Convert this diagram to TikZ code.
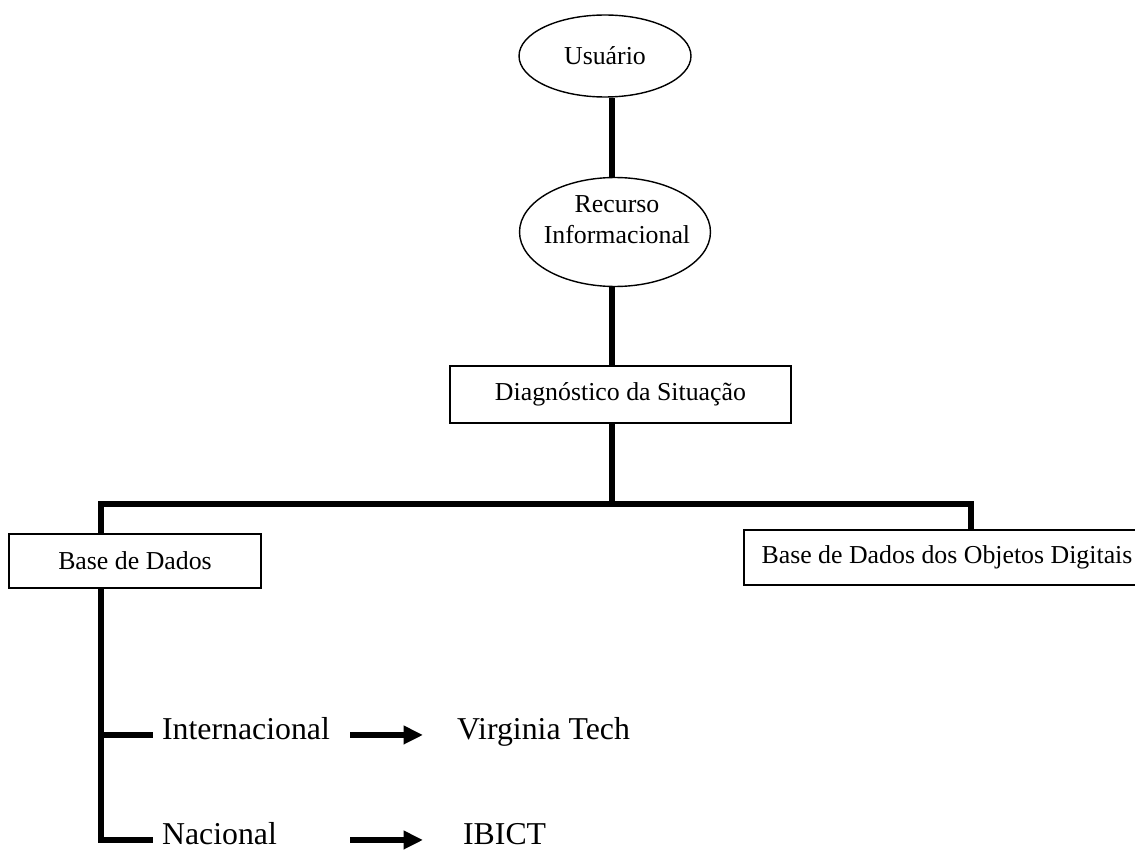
\documentclass[tikz,border=0pt]{standalone}
\usepackage{fontspec}
\setmainfont{Liberation Serif}
\usetikzlibrary{positioning,shapes.geometric,arrows.meta}
\tikzset{
  bubble/.style={draw,ellipse,line width=0.8pt,inner sep=0pt},
  box/.style={draw,rectangle,line width=0.8pt,inner sep=0pt},
  link/.style={line width=3.7pt},
  pointer/.style={line width=3.9pt,-{Triangle[length=11pt,width=10pt]}},
  small/.style={font=\fontsize{14.7}{17.6}\selectfont},
  big/.style={font=\fontsize{18.1}{21.7}\selectfont,inner xsep=5pt,inner ysep=0pt}
}

\begin{document}
\begin{tikzpicture}[x=0.02cm,y=-0.02cm]
\useasboundingbox (0,0) rectangle (1135,851);
\node[bubble,small,minimum width=3.44cm,minimum height=1.64cm] (usuario) at (605,56) {Usuário};
\node[bubble,minimum width=3.82cm,minimum height=2.18cm] (recurso) at (615,232) {};
\node[small,align=center,inner sep=0pt] (recursotxt) at (617,220) {Recurso\\Informacional};
\node[box,small,minimum width=6.82cm,minimum height=1.14cm] (diag) at (620.5,394.5) {Diagnóstico da Situação};
\node[box,small,minimum width=5.04cm,minimum height=1.08cm] (basedados) at (135,561) {Base de Dados};
\node[box,small,minimum width=8.12cm,minimum height=1.1cm] (objetos) at (947,557.5) {Base de Dados dos Objetos Digitais};

\coordinate (spine) at (612,0);
\coordinate (ldrop) at (101,504);
\coordinate (rdrop) at (971,504);
\coordinate (tail) at (350,0);
\coordinate (head) at (423,0);

\node[big,anchor=base west] (intl) at (153,739) {Internacional};
\node[big,anchor=base west] (nac) at (153,844) {Nacional};
\node[big,anchor=base west] (vt) at (448,739) {Virginia Tech};
\node[big,anchor=base west] (ibict) at (454,844) {IBICT};

\draw[link] (usuario.south -| spine) -- (recurso.north -| spine);
\draw[link] (recurso.south -| spine) -- (diag.north -| spine);
\draw[link] (diag.south -| spine) -- (spine |- ldrop);
\draw[link] (basedados.north -| ldrop) -- (ldrop) -- (rdrop) -- (objetos.north -| rdrop);
\draw[link] (basedados.south -| ldrop) |- (nac.mid west);
\draw[link] (intl.mid west -| ldrop) -- (intl.mid west);
\draw[pointer] (tail |- intl.mid east) -- (head |- intl.mid east);
\draw[pointer] (tail |- nac.mid east) -- (head |- nac.mid east);
\end{tikzpicture}
\end{document}
